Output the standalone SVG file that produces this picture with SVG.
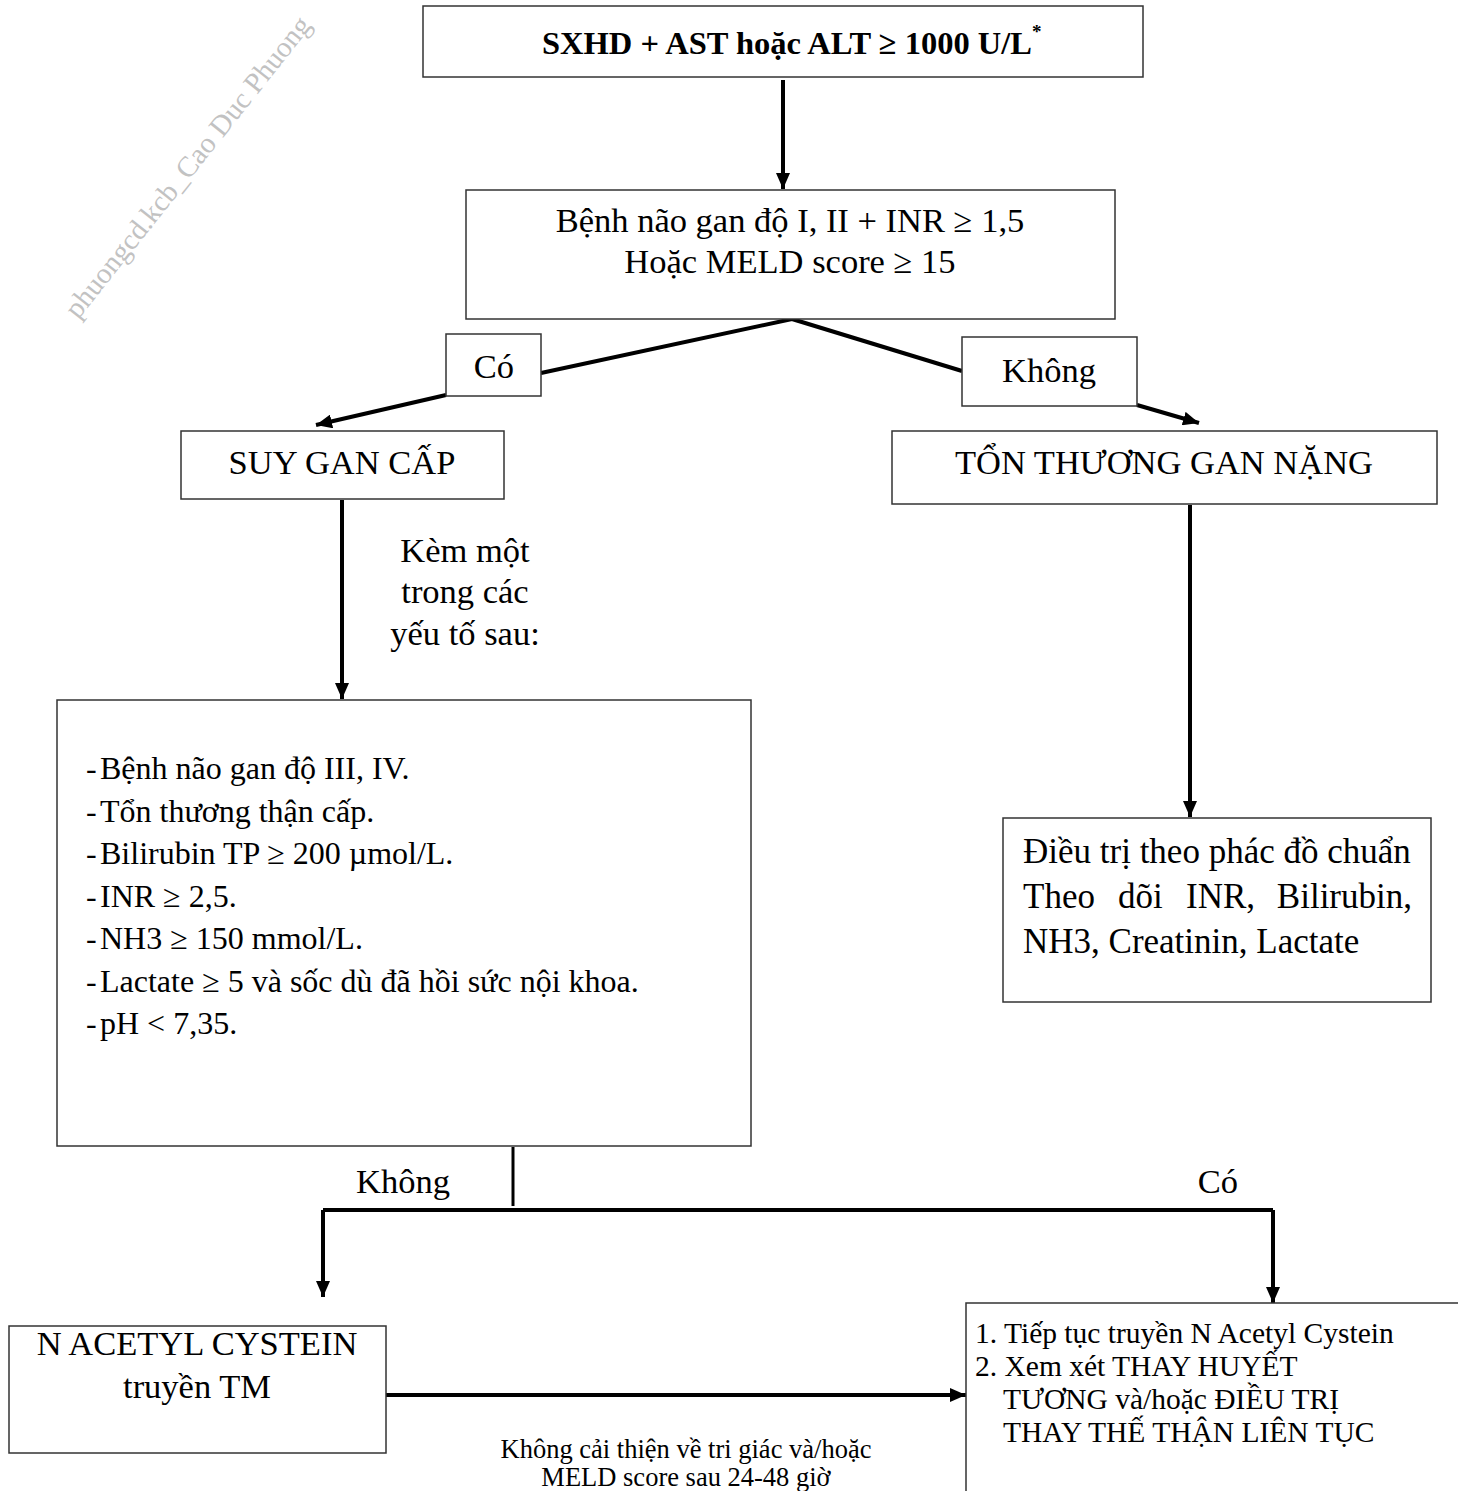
<svg xmlns="http://www.w3.org/2000/svg" width="1458" height="1491" viewBox="0 0 1458 1491">
<style>
.box{fill:#fff;stroke:#333;stroke-width:1.5}
.t{font-family:"Liberation Serif","Times New Roman",serif;font-size:34.5px;fill:#000}
.c{text-anchor:middle}
.e{text-anchor:end}
.b{font-weight:bold}
.li{font-size:32px}
.dt{font-size:35px}
.rb{font-size:29.5px}
.cap{font-size:26.5px}
.conn{stroke:#000;stroke-width:4;fill:none}
.thin{stroke:#000;stroke-width:3;fill:none}
.wm{font-family:"Liberation Serif",serif;font-size:29px;fill:#c2c2c2}
</style>
<defs>
<marker id="ah" markerUnits="userSpaceOnUse" markerWidth="16" markerHeight="14" refX="16" refY="7" orient="auto">
<path d="M0,0 L16,7 L0,14 z" fill="#000"/>
</marker>
</defs>
<text class="wm" transform="translate(78,320) rotate(-51.5)">phuongcd.kcb_Cao Duc Phuong</text>
<g id="connectors">
<path class="conn" d="M783,80 V189" marker-end="url(#ah)"/>
<path class="conn" d="M792,319 L541,373"/>
<path class="conn" d="M446,395 L316,425" marker-end="url(#ah)"/>
<path class="conn" d="M792,319 L962,371"/>
<path class="conn" d="M1137,405 L1199,423" marker-end="url(#ah)"/>
<path class="conn" d="M342,500 V699" marker-end="url(#ah)"/>
<path class="conn" d="M1190,505 V817" marker-end="url(#ah)"/>
<path class="thin" d="M513,1147 V1206"/>
<path class="conn" d="M323,1210 H1273"/>
<path class="conn" d="M323,1210 V1297" marker-end="url(#ah)"/>
<path class="conn" d="M1273,1210 V1303" marker-end="url(#ah)"/>
<path class="conn" d="M386,1395 H966" marker-end="url(#ah)"/>
</g>
<g id="n-start">
<rect class="box" x="423" y="6" width="720" height="71"/>
<text class="t b" x="542" y="54" style="font-size:32.5px">SXHD + AST hoặc ALT ≥ 1000 U/L<tspan dy="-16" style="font-size:19px">*</tspan></text>
</g>
<g id="n-criteria">
<rect class="box" x="466" y="190" width="649" height="129"/>
<text class="t c" x="790" y="232">Bệnh não gan độ I, II + INR ≥ 1,5</text>
<text class="t c" x="790" y="273">Hoặc MELD score ≥ 15</text>
</g>
<g id="n-co">
<rect class="box" x="446" y="334" width="95" height="62"/>
<text class="t c" x="494" y="378">Có</text>
</g>
<g id="n-khong">
<rect class="box" x="962" y="337" width="175" height="69"/>
<text class="t c" x="1049" y="382">Không</text>
</g>
<g id="n-suygan">
<rect class="box" x="181" y="431" width="323" height="68"/>
<text class="t c" x="342" y="474">SUY GAN CẤP</text>
</g>
<g id="n-tonthuong">
<rect class="box" x="892" y="431" width="545" height="73"/>
<text class="t c" x="1164" y="474">TỔN THƯƠNG GAN NẶNG</text>
</g>
<g id="l-kem">
<text class="t c" x="465" y="562">Kèm một</text>
<text class="t c" x="465" y="603">trong các</text>
<text class="t c" x="465" y="645">yếu tố sau:</text>
</g>
<g id="n-list">
<rect class="box" x="57" y="700" width="694" height="446"/>
<text class="t li" y="779"><tspan x="86">-</tspan><tspan x="100">Bệnh não gan độ III, IV.</tspan></text>
<text class="t li" y="822"><tspan x="86">-</tspan><tspan x="100">Tổn thương thận cấp.</tspan></text>
<text class="t li" y="864"><tspan x="86">-</tspan><tspan x="100">Bilirubin TP ≥ 200 µmol/L.</tspan></text>
<text class="t li" y="907"><tspan x="86">-</tspan><tspan x="100">INR ≥ 2,5.</tspan></text>
<text class="t li" y="949"><tspan x="86">-</tspan><tspan x="100">NH3 ≥ 150 mmol/L.</tspan></text>
<text class="t li" y="992"><tspan x="86">-</tspan><tspan x="100">Lactate ≥ 5 và sốc dù đã hồi sức nội khoa.</tspan></text>
<text class="t li" y="1034"><tspan x="86">-</tspan><tspan x="100">pH &lt; 7,35.</tspan></text>
</g>
<g id="n-dieutri">
<rect class="box" x="1003" y="818" width="428" height="184"/>
<text class="t dt" x="1023" y="863">Điều trị theo phác đồ chuẩn</text>
<text class="t dt" y="908"><tspan x="1023">Theo</tspan><tspan x="1118">dõi</tspan><tspan x="1186">INR,</tspan></text>
<text class="t dt e" x="1412" y="908">Bilirubin,</text>
<text class="t dt" x="1023" y="953">NH3, Creatinin, Lactate</text>
</g>
<g id="l-bottom">
<text class="t c" x="403" y="1193">Không</text>
<text class="t c" x="1218" y="1193">Có</text>
</g>
<g id="n-nac">
<rect class="box" x="9" y="1326" width="377" height="127"/>
<text class="t c" x="197" y="1355">N ACETYL CYSTEIN</text>
<text class="t c" x="197" y="1398">truyền TM</text>
</g>
<g id="n-thay">
<path class="box" d="M1458,1303 H966 V1491" fill="none"/>
<text class="t rb" x="975" y="1343">1. Tiếp tục truyền N Acetyl Cystein</text>
<text class="t rb" x="975" y="1376">2. Xem xét THAY HUYẾT</text>
<text class="t rb" x="1003" y="1409">TƯƠNG và/hoặc ĐIỀU TRỊ</text>
<text class="t rb" x="1003" y="1442">THAY THẾ THẬN LIÊN  TỤC</text>
</g>
<g id="l-caption">
<text class="t c cap" x="686" y="1458">Không cải thiện về tri giác và/hoặc</text>
<text class="t c cap" x="686" y="1486">MELD score sau 24-48 giờ</text>
</g>
</svg>
